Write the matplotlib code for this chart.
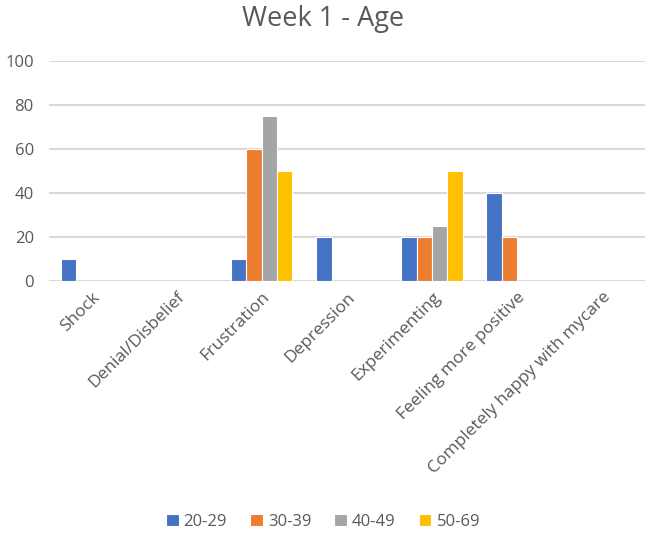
import numpy as np
import matplotlib
matplotlib.use("Agg")
import matplotlib.pyplot as plt

categories = ["Shock", "Denial/Disbelief", "Frustration", "Depression",
              "Experimenting", "Feeling more positive", "Completely happy with mycare"]
series_names = ["20-29", "30-39", "40-49", "50-69"]
age_20_29 = [10, 0, 10, 20, 20, 40, 0]
age_30_39 = [0, 0, 60, 0, 20, 20, 0]
age_40_49 = [0, 0, 75, 0, 25, 0, 0]
age_50_69 = [0, 0, 50, 0, 50, 0, 0]
colors = ["#4472C4", "#ED7D31", "#A5A5A5", "#FFC000"]

plt.rcParams['font.family'] = ['Open Sans', 'DejaVu Sans']
text_col = "#595959"

fig = plt.figure(figsize=(6.46, 5.36), dpi=100)
ax = fig.add_axes([0.076, 0.476, 0.922, 0.41])

x = np.arange(len(categories))
w = 0.18
all_series = [age_20_29, age_30_39, age_40_49, age_50_69]
for i, (vals, name, c) in enumerate(zip(all_series, series_names, colors)):
    ax.bar(x + (i - 1.5) * w, vals, width=w, color=c, edgecolor="white",
           linewidth=0.8, label=name, zorder=3)

ax.set_xlim(-0.5, len(categories) - 0.5)
ax.set_ylim(0, 100)
ax.set_yticks(range(0, 101, 20))
ax.yaxis.grid(True, color="#D9D9D9", linewidth=1.5, zorder=0)
ax.set_axisbelow(True)
ax.axhline(0, color="#D9D9D9", linewidth=1.5, zorder=1)
for s in ax.spines.values():
    s.set_visible(False)
ax.tick_params(axis="both", length=0, colors=text_col, labelsize=12)
ax.tick_params(axis="y", pad=11)
ax.set_xticks(x)
ax.set_xticklabels(categories, rotation=45, ha="right", rotation_mode="anchor",
                   color=text_col, fontsize=12.5)
ax.tick_params(axis="x", pad=6)

fig.text(0.5, 0.965, "Week 1 - Age", ha="center", va="center",
         fontsize=19.5, color=text_col)

leg = fig.legend(loc="center", bbox_to_anchor=(0.5, 0.027), ncol=4, frameon=False,
                 fontsize=12, handlelength=0.75, handleheight=0.75,
                 handletextpad=0.3, columnspacing=1.4)
for t in leg.get_texts():
    t.set_color(text_col)

fig.savefig("out.png", dpi=100)
